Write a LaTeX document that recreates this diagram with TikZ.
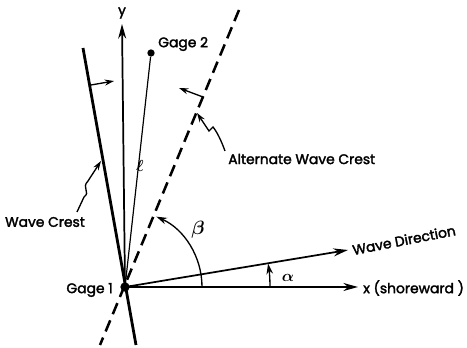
\documentclass[tikz,border=0pt]{standalone}
\usepackage{fontspec}
\setmainfont{Poppins}[FakeBold=2.2]
\usetikzlibrary{arrows.meta}
\begin{document}
\begin{tikzpicture}[x=0.75pt,y=-0.75pt,
  lab/.style={font=\fontsize{10.4}{12}\selectfont, inner sep=0pt},
  axis/.style={line width=1.3pt, -{Stealth[length=11pt,width=6pt]}},
  small/.style={line width=1pt, -{Stealth[length=7pt,width=4.5pt]}},
  dot/.style={circle, fill, inner sep=0pt, minimum size=#1}]
\useasboundingbox (0,0) rectangle (467,348);
% gages
\node[dot=7pt] (g1) at (125,287) {};
\node[dot=5.5pt] (g2) at (151,53) {};
\node[lab, anchor=east] (g1lab) at (113,290) {Gage 1};
\node[lab, anchor=west] (g2lab) at (158,44) {Gage 2};
% axes
\coordinate (ytip) at (122,24);
\coordinate (xtip) at (358,287);
\coordinate (wtip) at (348,250);
\draw[axis] (g1.center) -- (ytip);
\draw[axis] (g1.center) -- (xtip);
\draw[axis] (g1.center) -- (wtip);
\node[lab] (ylab) at (122,13) {y};
\node[lab, anchor=west] (xlab) at (363,288) {x (shoreward )};
\node[lab, rotate=11] (wlab) at (404,240) {Wave Direction};
% l line
\draw[line width=0.9pt] (g1.center) -- (g2);
\node[font=\boldmath\fontsize{13}{14}\selectfont] (ell) at (140,166) {$\ell$};
% wave crest
\coordinate (c1) at (83,48);
\coordinate (c2) at (136,345);
\draw[line width=2.1pt] (c1) -- (c2);
\coordinate (ca) at (91,85);
\coordinate (cb) at (114,81);
\draw[small] (ca) -- (cb);
% alternate wave crest
\coordinate (d1) at (239,10);
\coordinate (d2) at (100,345);
\draw[line width=1.9pt, dash pattern=on 9pt off 5pt] (d1) -- (d2);
\coordinate (da) at (203,97);
\coordinate (db) at (179,88);
\draw[small] (da) -- (db);
% labels with leaders
\node[lab] (wclab) at (45,222) {Wave Crest};
\coordinate (wcl) at (77,212);
\coordinate (wct) at (101,161);
\draw[small] (wcl) -- (84,197) .. controls (91,192) and (81,188) .. (88,181) -- (wct);
\node[lab, anchor=west] (awlab) at (228,159) {Alternate Wave Crest};
\coordinate (awl) at (225,151);
\coordinate (awt) at (197,113);
\draw[small] (awl) .. controls (221,140) and (217,132) .. (213,127) -- (209,131) -- (awt);
% angles
\draw[line width=1pt, -{Stealth[length=8pt,width=5pt]}] (202,287) arc[start angle=0, end angle=-66, radius=77];
\node[font=\boldmath\fontsize{14}{15}\selectfont] (beta) at (198,230) {$\beta$};
\draw[line width=1pt, -{Stealth[length=8pt,width=5pt]}] (270,287) arc[start angle=0, end angle=-9.3, radius=145];
\node[font=\boldmath\fontsize{12}{12}\selectfont] (alpha) at (288,278) {$\alpha$};
\end{tikzpicture}
\end{document}
